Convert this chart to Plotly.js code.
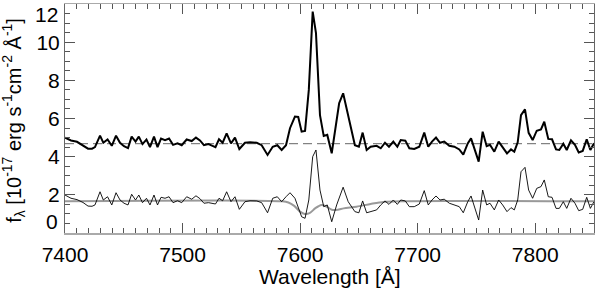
<!DOCTYPE html>
<html><head><meta charset="utf-8">
<script src="https://cdn.plot.ly/plotly-3.0.1.min.js"></script>
<style>html,body{margin:0;padding:0;background:#fff}#chart{width:596px;height:289px}</style>
</head><body><div id="chart"></div>
<script>
const wavelength = [7400.0,7405.1,7410.2,7415.3,7419.6,7423.0,7425.5,7429.8,7432.6,7436.2,7439.8,7443.4,7446.8,7450.2,7453.6,7456.7,7460.0,7462.8,7465.9,7469.3,7472.3,7475.7,7478.7,7481.7,7485.1,7488.5,7491.9,7495.7,7499.3,7503.5,7507.8,7511.4,7514.8,
7518.2,7522.1,7525.0,7528.0,7531.0,7534.1,7537.5,7541.2,7544.6,7548.3,7553.1,7557.4,7563.1,7567.3,7572.3,7576.7,7580.6,7584.3,7588.0,7591.4,7595.6,7598.4,7601.3,7604.2,7607.4,7610.7,7613.5,7616.9,7620.1,7623.1,7626.9,7631.1,7633.2,7636.6,7640.9,7646.6,7650.0,7653.2,7656.6,7660.0,7665.1,7668.6,7672.2,7675.6,7679.3,7682.7,7685.6,
7689.5,7692.9,7697.1,7701.4,7705.6,7709.0,7712.2,7715.6,7719.0,7722.6,7726.9,7731.2,7735.4,7738.8,7742.6,7745.4,7748.8,7751.9,7755.3,7758.7,7761.5,7765.2,7768.9,7772.3,7776.0,7779.4,7782.2,7785.1,7787.9,7791.3,7794.4,7797.8,7801.3,7804.9,7807.7,7811.1,7814.3,7817.7,7820.5,7823.9,7826.8,7830.4,7833.8,7837.0,7840.4,7843.8,7846.9,7850.0];

const fluxObserved = [5.00,4.85,4.78,4.58,4.42,4.42,4.50,5.10,4.73,4.90,4.57,5.10,4.73,4.55,4.45,5.05,4.79,5.05,4.66,4.90,4.50,5.05,4.50,4.95,4.87,4.95,4.62,4.70,4.60,4.90,4.82,5.00,4.85,
4.60,4.66,4.58,4.50,4.91,4.73,5.22,4.70,5.00,4.40,4.73,4.75,4.73,4.60,4.09,4.52,4.60,4.35,4.60,5.49,6.10,6.08,5.31,5.35,7.50,11.60,10.47,6.18,5.08,5.14,4.18,5.90,6.80,7.32,6.18,4.60,4.52,5.26,4.35,4.52,4.57,4.44,4.73,4.52,4.79,4.52,4.87,
4.84,4.44,4.40,4.52,5.26,4.52,4.79,5.00,4.73,4.79,4.57,4.52,4.38,4.11,4.69,4.96,4.30,3.74,5.31,4.55,4.62,4.26,4.79,4.52,4.17,4.38,4.26,4.75,6.18,6.48,5.25,4.87,5.36,5.43,5.83,4.93,4.91,4.38,4.35,4.68,4.35,4.86,4.62,4.22,4.30,4.91,4.35,4.70];

const fluxResidual = [1.99,1.82,1.75,1.60,1.41,1.40,1.47,2.16,1.73,1.90,1.47,2.11,1.73,1.56,1.47,2.03,1.73,1.99,1.59,1.82,1.47,1.99,1.47,1.87,1.82,1.90,1.59,1.69,1.59,1.90,1.77,1.95,1.80,
1.56,1.59,1.55,1.52,1.82,1.69,2.16,1.64,1.90,1.24,1.64,1.69,1.68,1.59,1.06,1.82,1.90,1.64,1.90,2.11,1.82,1.38,0.85,0.77,1.73,4.00,4.35,2.25,1.38,1.47,0.59,1.47,1.84,2.40,1.64,1.12,1.06,1.68,1.06,1.12,1.21,1.47,1.68,1.50,1.73,1.50,1.73,
1.68,1.38,1.38,1.52,2.22,1.47,1.73,1.94,1.73,1.77,1.56,1.47,1.38,1.06,1.64,1.94,1.21,0.68,2.25,1.47,1.56,1.21,1.73,1.47,1.12,1.33,1.21,1.73,3.21,3.44,2.25,1.82,2.34,2.43,2.78,1.90,1.87,1.29,1.29,1.64,1.29,1.82,1.56,1.17,1.24,1.87,1.29,1.64];

const modelWavelength = [7400,7585,7590,7595,7600,7604,7608,7613,7618,7622,7627,7632,7637,7648,7660,7671,7685,7850];
const modelFlux = [1.66,1.66,1.60,1.42,1.12,1.00,1.04,1.30,1.47,1.40,1.22,1.22,1.29,1.38,1.52,1.63,1.67,1.66];

const continuumWavelength = [7400, 7850];
const continuumFlux = [4.68, 4.68];

const xTicks = [7400, 7500, 7600, 7700, 7800];
const yTicksInner = [2, 4, 6, 8, 10];
const yTickEnds = [0, 12];

const FONT = 'Liberation Sans, Arial, Helvetica, sans-serif';

const traces = [
  {x: continuumWavelength, y: continuumFlux, mode: 'lines', line: {color: '#666', width: 1, dash: '9px,5px'}, hoverinfo: 'skip'},
  {x: modelWavelength, y: modelFlux, mode: 'lines', line: {color: '#999', width: 2, shape: 'spline', smoothing: 0.8}},
  {x: wavelength, y: fluxResidual, mode: 'lines', line: {color: '#000', width: 0.9}},
  {x: wavelength, y: fluxObserved, mode: 'lines', line: {color: '#000', width: 2}}
];

const axisCommon = {
  ticks: 'inside', ticklen: 10, tickwidth: 1, tickcolor: '#555',
  showline: true, mirror: 'ticks', showgrid: false, zeroline: false,
  tickfont: {family: FONT, size: 21, color: '#000'}
};

const tickFont = {family: FONT, size: 21, color: '#000'};

const layout = {
  width: 596, height: 289,
  margin: {l: 65, r: 2, t: 4, b: 56},
  paper_bgcolor: '#fff', plot_bgcolor: '#fff',
  showlegend: false,
  xaxis: Object.assign({}, axisCommon, {
    range: [7400, 7850], tickvals: xTicks, ticktext: xTicks.map(String),
    linecolor: '#aaa', linewidth: 1.5, ticklabelstandoff: 2, ticklabeloverflow: 'allow',
    minor: {ticks: 'inside', ticklen: 5, dtick: 10, tick0: 7400, tickcolor: '#555', tickwidth: 1}
  }),
  yaxis: Object.assign({}, axisCommon, {
    range: [0, 12], tickvals: yTicksInner, ticktext: yTicksInner.map(String),
    linecolor: '#666', linewidth: 1, ticklabelstandoff: 0,
    minor: {ticks: 'inside', ticklen: 5, dtick: 0.5, tick0: 0, tickcolor: '#555', tickwidth: 1}
  }),
  annotations: [
    {text: String(yTickEnds[1]), xref: 'paper', yref: 'y', x: 0, xshift: -5, y: yTickEnds[1],
     xanchor: 'right', yanchor: 'top', yshift: 3, showarrow: false, font: tickFont},
    {text: String(yTickEnds[0]), xref: 'paper', yref: 'y', x: 0, xshift: -5, y: yTickEnds[0],
     xanchor: 'right', yanchor: 'bottom', yshift: -2, showarrow: false, font: tickFont},
    {text: 'Wavelength [Å]', xref: 'paper', yref: 'paper', x: 0.5, y: 0, yshift: -57,
     xanchor: 'center', yanchor: 'bottom', showarrow: false, font: {family: FONT, size: 21, color: '#000'}},
    {text: 'f<sub>λ</sub> [10<sup>-17</sup> erg s<sup>-1</sup>cm<sup>-2</sup> Å<sup>-1</sup>]', xref: 'paper', yref: 'paper',
     x: 0, xshift: -51, y: 0.49, xanchor: 'center', yanchor: 'middle', textangle: -90, showarrow: false,
     font: {family: FONT, size: 20, color: '#000'}}
  ]
};

Plotly.newPlot('chart', traces, layout, {staticPlot: true, displayModeBar: false});
</script>
</body></html>
